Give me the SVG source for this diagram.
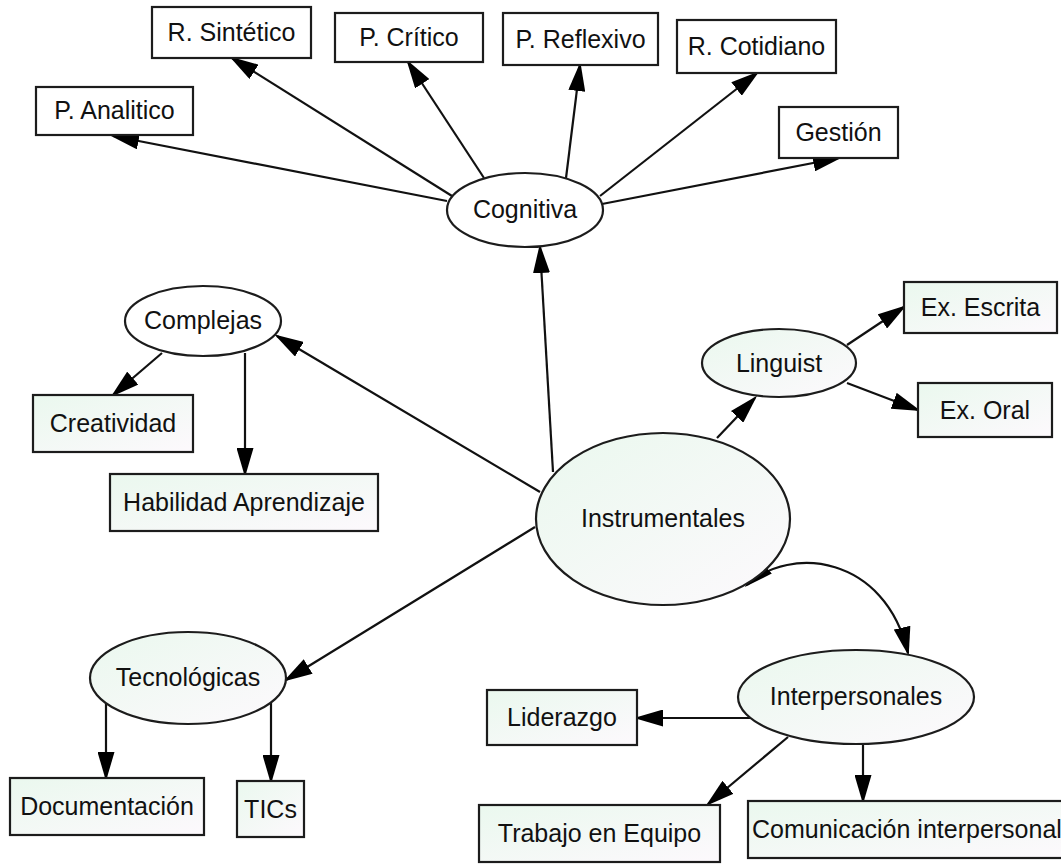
<svg xmlns="http://www.w3.org/2000/svg" width="1061" height="864" viewBox="0 0 1061 864">
<style>
  .w { fill: #ffffff; stroke: #1c1c1c; stroke-width: 2.2; }
  .g { fill: url(#gfill); stroke: #1c1c1c; stroke-width: 2.2; }
  .t { font-family: "Liberation Sans", Arial, sans-serif; font-size: 25px; fill: #111; text-anchor: middle; }
  .e { fill: none; stroke: #111; stroke-width: 2.2; marker-end: url(#ah); }
</style>
<defs>
  <linearGradient id="gfill" x1="0" y1="0" x2="1" y2="1">
    <stop offset="0" stop-color="#eaf8ee"/>
    <stop offset="1" stop-color="#fdf9fd"/>
  </linearGradient>
  <marker id="ah" markerUnits="userSpaceOnUse" markerWidth="29" markerHeight="17" refX="26" refY="8.5" orient="auto-start-reverse">
    <path d="M0,0 L29,8.5 L0,17 z" fill="#000"/>
  </marker>
</defs>
<rect width="1061" height="864" fill="#ffffff"/>
<g id="connectors">
  <line class="e" x1="447" y1="201" x2="113" y2="136"/>
  <line class="e" x1="452" y1="196" x2="232" y2="58"/>
  <line class="e" x1="484" y1="178" x2="408" y2="62"/>
  <line class="e" x1="566" y1="178" x2="580" y2="65"/>
  <line class="e" x1="600" y1="196" x2="757" y2="73"/>
  <line class="e" x1="602" y1="204" x2="839" y2="158"/>
  <line class="e" x1="553" y1="472" x2="540" y2="247"/>
  <line class="e" x1="540" y1="492" x2="277" y2="336"/>
  <line class="e" x1="162" y1="353" x2="113" y2="395"/>
  <line class="e" x1="245" y1="353" x2="245" y2="474"/>
  <line class="e" x1="717" y1="438" x2="755" y2="398"/>
  <line class="e" x1="847" y1="345" x2="904" y2="307"/>
  <line class="e" x1="847" y1="383" x2="918" y2="410"/>
  <line class="e" x1="535" y1="527" x2="286" y2="680"/>
  <line class="e" x1="106" y1="703" x2="106" y2="778"/>
  <line class="e" x1="271" y1="703" x2="271" y2="781"/>
  <path class="e" d="M747,585 C790,545 885,555 908,653" style="marker-start:url(#ah)"/>
  <line class="e" x1="750" y1="718" x2="637" y2="718"/>
  <line class="e" x1="788" y1="737" x2="708" y2="804"/>
  <line class="e" x1="863" y1="744" x2="863" y2="801"/>
</g>
<g id="n-panalitico"><rect class="w" x="36" y="87" width="157" height="48"/><text class="t" x="114.5" y="119">P. Analitico</text></g>
<g id="n-rsintetico"><rect class="w" x="152" y="7" width="159" height="51"/><text class="t" x="231.5" y="41">R. Sintético</text></g>
<g id="n-pcritico"><rect class="w" x="335" y="13" width="148" height="49"/><text class="t" x="409" y="46">P. Crítico</text></g>
<g id="n-preflexivo"><rect class="w" x="503" y="13" width="155" height="52"/><text class="t" x="580.5" y="48">P. Reflexivo</text></g>
<g id="n-rcotidiano"><rect class="w" x="677" y="20" width="159" height="53"/><text class="t" x="756.5" y="55">R. Cotidiano</text></g>
<g id="n-gestion"><rect class="w" x="779" y="107" width="119" height="51"/><text class="t" x="838.5" y="141">Gestión</text></g>
<g id="n-cognitiva"><ellipse class="w" cx="525" cy="210" rx="78" ry="37"/><text class="t" x="525" y="218">Cognitiva</text></g>
<g id="n-complejas"><ellipse class="w" cx="203" cy="321" rx="78" ry="35"/><text class="t" x="203" y="329">Complejas</text></g>
<g id="n-creatividad"><rect class="g" x="33" y="395" width="160" height="57"/><text class="t" x="113" y="432">Creatividad</text></g>
<g id="n-habilidad"><rect class="g" x="110" y="474" width="268" height="57"/><text class="t" x="244" y="511">Habilidad Aprendizaje</text></g>
<g id="n-linguist"><ellipse class="g" cx="779" cy="363" rx="77" ry="34"/><text class="t" x="779" y="372">Linguist</text></g>
<g id="n-exescrita"><rect class="g" x="904" y="282" width="153" height="51"/><text class="t" x="980.5" y="316">Ex. Escrita</text></g>
<g id="n-exoral"><rect class="g" x="918" y="383" width="134" height="54"/><text class="t" x="985" y="419">Ex. Oral</text></g>
<g id="n-instrumentales"><ellipse class="g" cx="663" cy="519" rx="127" ry="86"/><text class="t" x="663" y="527">Instrumentales</text></g>
<g id="n-tecnologicas"><ellipse class="g" cx="188" cy="678" rx="98" ry="46"/><text class="t" x="188" y="686">Tecnológicas</text></g>
<g id="n-documentacion"><rect class="g" x="10" y="778" width="194" height="57"/><text class="t" x="107" y="815">Documentación</text></g>
<g id="n-tics"><rect class="g" x="237" y="781" width="67" height="56"/><text class="t" x="270.5" y="818">TICs</text></g>
<g id="n-interpersonales"><ellipse class="g" cx="856" cy="697" rx="118" ry="47"/><text class="t" x="856" y="705">Interpersonales</text></g>
<g id="n-liderazgo"><rect class="g" x="487" y="690" width="150" height="55"/><text class="t" x="562" y="726">Liderazgo</text></g>
<g id="n-trabajo"><rect class="g" x="479" y="805" width="241" height="57"/><text class="t" x="599.5" y="842">Trabajo en Equipo</text></g>
<g id="n-comunicacion"><rect class="g" x="748" y="801" width="330" height="57"/><text class="t" x="752" y="838" style="text-anchor:start">Comunicación interpersonal</text></g>
</svg>
